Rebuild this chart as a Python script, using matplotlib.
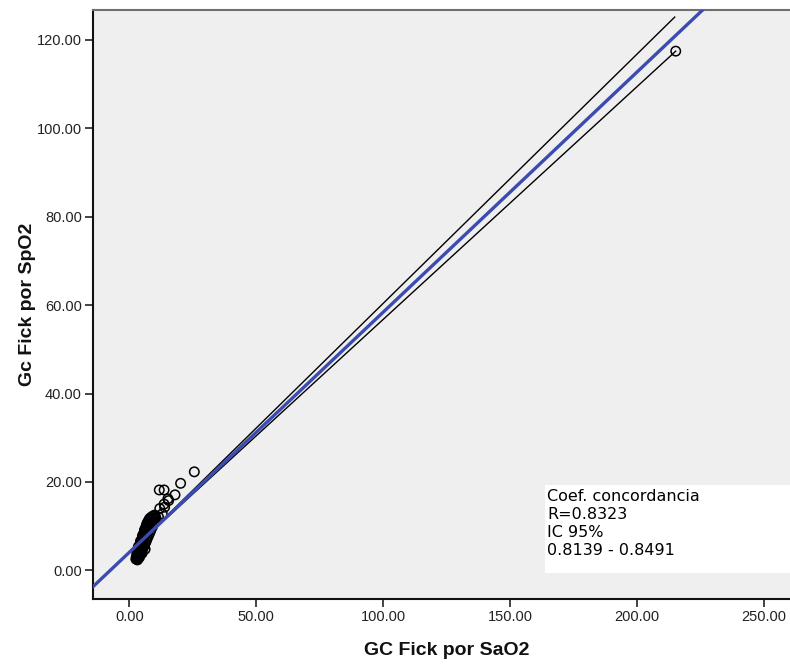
import matplotlib
matplotlib.use("Agg")
import matplotlib.pyplot as plt
from matplotlib.patches import Rectangle

# ---- data ----
cluster_x = [2.6, 2.8, 3.0, 3.1, 3.3, 3.4, 3.5, 3.7, 3.8, 4.0, 4.1, 4.2, 4.4, 4.5, 4.6, 4.8,
             4.9, 5.0, 5.2, 5.3, 5.4, 5.6, 5.7, 5.8, 6.0, 6.1, 6.2, 6.4, 6.5, 6.6, 6.8, 6.9,
             7.0, 7.2, 7.3, 7.5, 7.7, 7.8, 8.0, 8.2, 8.4, 8.6, 8.8, 9.0, 9.3, 9.6, 10.0, 10.4,
             3.9, 4.3, 4.7, 5.1, 5.5, 5.9, 6.3, 6.7, 7.1, 7.6, 8.1, 8.5, 9.1, 9.8,
             2.9, 3.6, 4.4, 5.2, 6.0, 6.9, 7.9, 4.0, 5.0, 6.2, 3.2, 3.5]
cluster_y = [2.6, 3.2, 2.9, 3.8, 3.4, 4.3, 3.9, 4.6, 5.2, 4.5, 5.6, 4.9, 6.0, 5.4, 6.5, 5.8,
             7.0, 6.2, 7.4, 6.7, 8.0, 7.1, 8.4, 7.5, 8.8, 7.9, 9.3, 8.3, 9.8, 8.7, 10.2, 9.0,
             10.6, 9.4, 11.0, 9.8, 11.3, 10.2, 11.7, 10.6, 11.2, 12.0, 11.0, 11.6, 12.3, 11.8, 12.5, 12.0,
             3.3, 3.7, 4.2, 4.7, 5.2, 5.7, 6.2, 6.7, 7.3, 7.9, 8.6, 9.2, 9.9, 10.7,
             4.4, 5.4, 6.6, 7.8, 9.1, 10.3, 11.4, 3.0, 3.9, 4.8, 2.4, 2.7]
sparse_x = [10.2, 11.5, 13.0, 12.0, 13.9, 13.7, 15.5, 15.2, 11.8, 13.7, 18.0, 20.2, 25.6, 215.2]
sparse_y = [11.7, 12.1, 12.8, 14.0, 14.3, 15.0, 15.8, 16.2, 18.2, 18.2, 17.1, 19.7, 22.3, 117.4]

fit_slope = 0.543
fit_intercept = 4.1
upper_x = [2.8, 214.8]
upper_y = [5.6, 125.1]
lower_x = [2.8, 215.2]
lower_y = [5.6, 117.4]

xticks = [0, 50, 100, 150, 200, 250]
yticks = [0, 20, 40, 60, 80, 100, 120]
xlim = (-14.3, 260.2)
ylim = (-6.45, 126.7)

xlabel = "GC Fick por SaO2"
ylabel = "Gc Fick por SpO2"
note_lines = ["Coef. concordancia", "R=0.8323", "IC 95%", "0.8139 - 0.8491"]

# ---- figure ----
fig = plt.figure(figsize=(7.9, 6.67), dpi=100)
ax = fig.add_axes([93 / 790, 1 - 599 / 667, 697 / 790, 589 / 667])
ax.set_facecolor("#efefef")

ax.scatter(cluster_x, cluster_y, s=46, facecolors="none", edgecolors="black",
           linewidths=1.2, zorder=3)
ax.scatter(sparse_x, sparse_y, s=46, facecolors="none", edgecolors="black",
           linewidths=1.1, zorder=3)

ax.plot(upper_x, upper_y, color="black", lw=1.0, zorder=2)
ax.plot(lower_x, lower_y, color="black", lw=1.0, zorder=2)

lx = [xlim[0], xlim[1]]
ly = [fit_intercept + fit_slope * v for v in lx]
ax.plot(lx, ly, color="#3c4bb0", lw=2.4, zorder=4)

ax.set_xlim(*xlim)
ax.set_ylim(*ylim)
ax.set_xticks(xticks)
ax.set_yticks(yticks)
ax.set_xticklabels([f"{v:.2f}" for v in xticks])
ax.set_yticklabels([f"{v:.2f}" for v in yticks])
ax.tick_params(axis="both", direction="out", length=6, width=1.2, color="#222222",
               labelsize=10.5, labelcolor="#222222", pad=2)
for lab in ax.get_xticklabels() + ax.get_yticklabels():
    lab.set_family("Liberation Sans")

ax.spines["right"].set_visible(False)
ax.spines["top"].set_color("#707070")
ax.spines["top"].set_linewidth(1.5)
for s in ("left", "bottom"):
    ax.spines[s].set_color("#111111")
    ax.spines[s].set_linewidth(1.5)

ax.set_xlabel(xlabel, fontsize=14, fontweight="bold", family="Liberation Sans", color="#111111")
ax.set_ylabel(ylabel, fontsize=14, fontweight="bold", family="Liberation Sans", color="#111111")
ax.xaxis.set_label_coords((446.5 - 93) / 697, -(642 - 599) / 589)
ax.yaxis.set_label_coords(-(93 - 36) / 697, 0.5)

# annotation box
box = Rectangle(((545 - 93) / 697, (599 - 573) / 589), 0.4, (573 - 485) / 589,
                transform=ax.transAxes, facecolor="white", edgecolor="none", zorder=5)
ax.add_patch(box)
for i, line in enumerate(note_lines):
    ax.text((547 - 93) / 697, (599 - 489 - 18 * i) / 589, line, transform=ax.transAxes,
            ha="left", va="top", fontsize=11.5, family="DejaVu Sans", color="black", zorder=6)

fig.savefig("out.png", dpi=100)
